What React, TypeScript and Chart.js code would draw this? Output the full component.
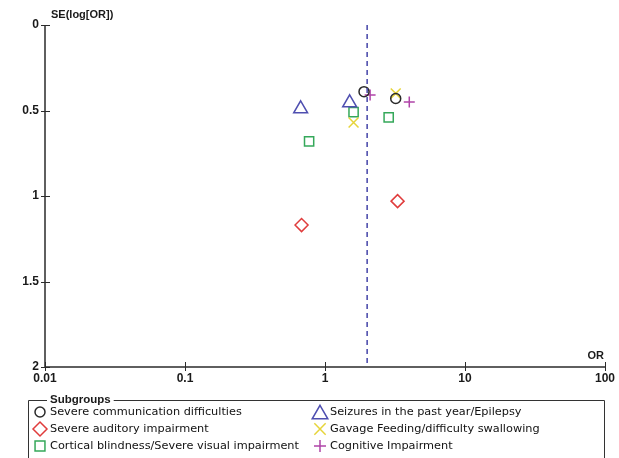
import React, { useEffect, useRef } from 'react';
import { Chart, registerables } from 'chart.js';
import { drawPoint } from 'chart.js/helpers';

Chart.register(...registerables);

// Odds ratios (x) and standard errors of log OR (y) for each subgroup
const commOR = [1.9, 3.2];
const commSE = [0.39, 0.43];
const seizOR = [0.67, 1.5];
const seizSE = [0.49, 0.455];
const audOR = [0.68, 3.3];
const audSE = [1.17, 1.03];
const gavOR = [1.6, 3.2];
const gavSE = [0.57, 0.4];
const visOR = [0.77, 1.6, 2.85];
const visSE = [0.68, 0.51, 0.54];
const cogOR = [2.1, 4.0];
const cogSE = [0.41, 0.45];

const pooledOR = 2.0;

const xTickValues = [0.01, 0.1, 1, 10, 100];
const xTickLabels = ['0.01', '0.1', '1', '10', '100'];
const yTickValues = [0, 0.5, 1, 1.5, 2];
const yTickLabels = ['0', '0.5', '1', '1.5', '2'];

const subgroupNames = [
  'Severe communication difficulties',
  'Seizures in the past year/Epilepsy',
  'Severe auditory impairment',
  'Gavage Feeding/difficulty swallowing',
  'Cortical blindness/Severe visual impairment',
  'Cognitive Impairment',
];

const AXIS_COLOR = '#2b2b2b';
const LEGEND_FONT = '11.3px "DejaVu Sans", sans-serif';

const pts = (xs: number[], ys: number[]) => xs.map((x, i) => ({ x, y: ys[i] }));

const series = [
  { name: subgroupNames[0], data: pts(commOR, commSE), style: 'circle', color: '#2a2a2a', radius: 5, legendRadius: 5 },
  { name: subgroupNames[1], data: pts(seizOR, seizSE), style: 'triangle', color: '#4f4fb0', radius: 8, legendRadius: 9 },
  { name: subgroupNames[2], data: pts(audOR, audSE), style: 'rectRot', color: '#e03c3c', radius: 6.5, legendRadius: 7 },
  { name: subgroupNames[3], data: pts(gavOR, gavSE), style: 'crossRot', color: '#e6d43a', radius: 7, legendRadius: 8 },
  { name: subgroupNames[4], data: pts(visOR, visSE), style: 'rect', color: '#35a85a', radius: 6.5, legendRadius: 7 },
  { name: subgroupNames[5], data: pts(cogOR, cogSE), style: 'cross', color: '#b044a8', radius: 5.5, legendRadius: 6 },
];

const framePlugin = {
  id: 'funnelFrame',
  afterDraw(chart: any) {
    const { ctx, chartArea } = chart;
    const xs = chart.scales.x;
    const ys = chart.scales.y;
    const { left, right, top, bottom } = chartArea;
    ctx.save();

    // axis lines
    ctx.strokeStyle = AXIS_COLOR;
    ctx.lineWidth = 1.5;
    ctx.beginPath();
    ctx.moveTo(left, top);
    ctx.lineTo(left, bottom);
    ctx.lineTo(right, bottom);
    ctx.stroke();

    // tick marks crossing the axes
    ctx.lineWidth = 1;
    ctx.beginPath();
    yTickValues.forEach((v) => {
      const py = Math.round(ys.getPixelForValue(v)) + 0.5;
      ctx.moveTo(left - 4, py);
      ctx.lineTo(left + 5, py);
    });
    xTickValues.forEach((v) => {
      const px = Math.round(xs.getPixelForValue(v)) + 0.5;
      ctx.moveTo(px, bottom - 5);
      ctx.lineTo(px, bottom + 4);
    });
    ctx.stroke();

    // axis titles
    ctx.fillStyle = '#1a1a1a';
    ctx.font = 'bold 11px "Liberation Sans", Arial, sans-serif';
    ctx.textBaseline = 'middle';
    ctx.textAlign = 'left';
    ctx.fillText('SE(log[OR])', left + 6, top - 10);
    ctx.textAlign = 'right';
    ctx.fillText('OR', right - 1, bottom - 11);

    // legend box with the title set into its top edge
    const bx = 28;
    const by = 400;
    const bw = 576;
    ctx.font = 'bold 11.5px "Liberation Sans", Arial, sans-serif';
    const title = 'Subgroups';
    const tw = ctx.measureText(title).width;
    const tx = 50;
    ctx.strokeStyle = '#333';
    ctx.lineWidth = 1;
    ctx.beginPath();
    ctx.moveTo(tx - 3, by + 0.5);
    ctx.lineTo(bx + 0.5, by + 0.5);
    ctx.lineTo(bx + 0.5, 470);
    ctx.moveTo(tx + tw + 3, by + 0.5);
    ctx.lineTo(bx + bw + 0.5, by + 0.5);
    ctx.lineTo(bx + bw + 0.5, 470);
    ctx.stroke();
    ctx.fillStyle = '#1a1a1a';
    ctx.textAlign = 'left';
    ctx.fillText(title, tx, by);

    ctx.font = LEGEND_FONT;
    const colX = [40, 320];
    const rowY = [412, 429, 446];
    series.forEach((s, i) => {
      const cx = colX[i % 2];
      const cy = rowY[Math.floor(i / 2)];
      ctx.strokeStyle = s.color;
      ctx.fillStyle = 'rgba(0,0,0,0)';
      ctx.lineWidth = 1.5;
      const r = s.legendRadius;
      const oy = s.style === 'triangle' ? r * 0.25 : 0;
      drawPoint(ctx, { pointStyle: s.style as any, radius: r, rotation: 0, borderWidth: 1.5 }, cx, cy + oy);
      ctx.fillStyle = '#111';
      ctx.fillText(s.name, cx + 10, cy);
    });

    ctx.restore();
  },
};

export default function App() {
  const ref = useRef<HTMLCanvasElement | null>(null);

  useEffect(() => {
    document.body.style.margin = '0';
    const canvas = ref.current;
    if (!canvas) return;

    const datasets: any[] = [
      {
        label: 'Pooled OR',
        data: [
          { x: pooledOR, y: 0 },
          { x: pooledOR, y: 2 },
        ],
        showLine: true,
        borderColor: '#4444a8',
        borderWidth: 1.5,
        borderDash: [5, 4],
        pointRadius: 0,
        fill: false,
      },
      ...series.map((s) => ({
        label: s.name,
        data: s.data,
        pointStyle: s.style,
        pointRadius: s.radius,
        pointBorderWidth: 1.5,
        borderColor: s.color,
        backgroundColor: 'rgba(0,0,0,0)',
        showLine: false,
      })),
    ];

    const chart = new Chart(canvas, {
      type: 'scatter',
      data: { datasets },
      options: {
        responsive: false,
        animation: false,
        layout: { padding: { left: 0, top: 25, right: 13, bottom: 69 } },
        plugins: {
          legend: { display: false },
          tooltip: { enabled: false },
        },
        scales: {
          x: {
            type: 'logarithmic',
            min: 0.01,
            max: 100,
            grid: { display: false, drawTicks: false, tickLength: 0 },
            border: { display: false },
            afterBuildTicks: (scale: any) => {
              scale.ticks = xTickValues.map((v) => ({ value: v }));
            },
            afterFit: (scale: any) => {
              scale.height = 22;
            },
            ticks: {
              autoSkip: false,
              maxRotation: 0,
              padding: 4,
              color: '#1a1a1a',
              font: { family: '"Liberation Sans", Arial, sans-serif', size: 12, weight: 'bold' },
              callback: (v: any) => {
                const i = xTickValues.indexOf(Number(v));
                return i >= 0 ? xTickLabels[i] : '';
              },
            },
          },
          y: {
            type: 'linear',
            reverse: true,
            min: 0,
            max: 2,
            grid: { display: false, drawTicks: false, tickLength: 0 },
            border: { display: false },
            afterBuildTicks: (scale: any) => {
              scale.ticks = yTickValues.map((v) => ({ value: v }));
            },
            afterFit: (scale: any) => {
              scale.width = 45;
            },
            ticks: {
              autoSkip: false,
              padding: 6,
              color: '#1a1a1a',
              font: { family: '"Liberation Sans", Arial, sans-serif', size: 12, weight: 'bold' },
              callback: (v: any) => {
                const i = yTickValues.indexOf(Number(v));
                return i >= 0 ? yTickLabels[i] : '';
              },
            },
          },
        },
      },
      plugins: [framePlugin],
    });

    return () => chart.destroy();
  }, []);

  return (
    <div style={{ width: 619, height: 458, background: '#fff' }}>
      <canvas ref={ref} width={619} height={458} style={{ display: 'block' }} />
    </div>
  );
}
